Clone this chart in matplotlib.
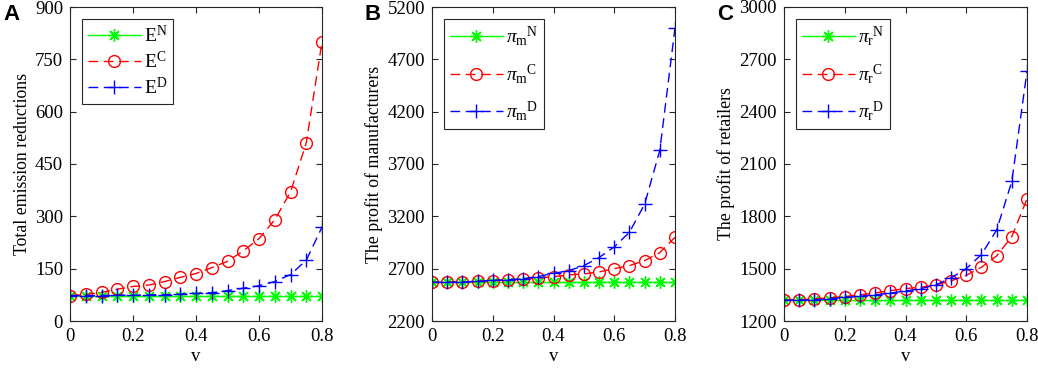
import matplotlib
matplotlib.use("Agg")
import matplotlib.pyplot as plt

plt.rcParams['font.family'] = ['Liberation Serif', 'DejaVu Serif']
plt.rcParams['mathtext.fontset'] = 'custom'
plt.rcParams['mathtext.rm'] = 'Liberation Serif'
plt.rcParams['mathtext.it'] = 'Liberation Serif:italic'

# data
v = [0, 0.05, 0.1, 0.15, 0.2, 0.25, 0.3, 0.35, 0.4, 0.45, 0.5, 0.55, 0.6, 0.65, 0.7, 0.75, 0.8]

E_N = [73] * 17
E_C = [73, 76, 82, 91, 99, 103, 113, 125, 136, 153, 171, 201, 236, 290, 370, 510, 800]
E_D = [73, 73, 73, 74, 74, 75, 75, 77, 79, 81, 87, 94, 101, 113, 133, 174, 269]

pm_N = [2570] * 17
pm_C = [2570, 2570, 2573, 2578, 2586, 2592, 2598, 2611, 2624, 2640, 2650, 2669, 2700, 2729, 2777, 2853, 3000]
pm_D = [2570, 2570, 2573, 2580, 2587, 2595, 2605, 2625, 2655, 2681, 2729, 2806, 2908, 3048, 3316, 3830, 5000]

pr_N = [1320] * 17
pr_C = [1320, 1322, 1327, 1333, 1340, 1350, 1361, 1374, 1386, 1393, 1407, 1430, 1462, 1508, 1573, 1684, 1900]
pr_D = [1320, 1320, 1322, 1328, 1335, 1342, 1350, 1360, 1372, 1385, 1407, 1447, 1500, 1581, 1722, 2000, 2631]

panels = [
    ("A", "Total emission reductions", (E_N, E_C, E_D),
     [r"$\mathrm{E}^\mathrm{N}$", r"$\mathrm{E}^\mathrm{C}$", r"$\mathrm{E}^\mathrm{D}$"],
     (0, 900), range(0, 901, 150), (70, 322), 0.25),
    ("B", "The profit of manufacturers", (pm_N, pm_C, pm_D),
     [r"$\pi_\mathrm{m}{}^\mathrm{N}$", r"$\pi_\mathrm{m}{}^\mathrm{C}$", r"$\pi_\mathrm{m}{}^\mathrm{D}$"],
     (2200, 5200), range(2200, 5201, 500), (432, 675), 0.7),
    ("C", "The profit of retailers", (pr_N, pr_C, pr_D),
     [r"$\pi_\mathrm{r}{}^\mathrm{N}$", r"$\pi_\mathrm{r}{}^\mathrm{C}$", r"$\pi_\mathrm{r}{}^\mathrm{D}$"],
     (1200, 3000), range(1200, 3001, 300), (784, 1027), 0.7),
]

W, H = 1038, 370
fig = plt.figure(figsize=(W / 100, H / 100), dpi=100)
axcol = '#262626'
asterisk = (8, 2, 0)

for letter, ylab, (yn, yc, yd), labels, ylim, yt, (x0, x1), lsp in panels:
    ax = fig.add_axes([x0 / W, (H - 321) / H, (x1 - x0) / W, 314 / H])
    ax.plot(v, yn, '-', color='#00ff00', marker=asterisk, ms=9, mew=1, lw=1,
            label=labels[0])
    ax.plot(v, yc, '--', color='#ff0000', marker='o', ms=8.5, mfc='none', lw=1,
            dashes=(7, 4), label=labels[1])
    ax.plot(v, yd, '--', color='#0000ff', marker='+', ms=9.5, lw=1,
            dashes=(7, 4), label=labels[2])
    ax.set_xlim(0, 0.8)
    ax.set_ylim(*ylim)
    ax.set_xticks([0, 0.2, 0.4, 0.6, 0.8])
    ax.set_xticklabels(['0', '0.2', '0.4', '0.6', '0.8'])
    ax.set_yticks(list(yt))
    ax.tick_params(direction='in', top=True, right=True, labelsize=13.5,
                   color=axcol, length=4, pad=5)
    for s in ax.spines.values():
        s.set_color(axcol)
        s.set_linewidth(0.8)
    ax.set_xlabel('v', fontsize=13.5, labelpad=2)
    ax.set_ylabel(ylab, fontsize=12.8, labelpad=3)
    leg = ax.legend(loc='upper left', fontsize=14, handlelength=2.75,
                    fancybox=False, framealpha=1, borderaxespad=0.6,
                    labelspacing=lsp, handletextpad=0.15, borderpad=0.3)
    leg.get_frame().set_edgecolor(axcol)
    leg.get_frame().set_linewidth(0.8)
    fig.text((x0 - 67) / W, (H - 4) / H, letter, fontsize=16, fontweight='bold',
             family='Liberation Sans', va='top', ha='left')

fig.savefig('out.png', dpi=100)
